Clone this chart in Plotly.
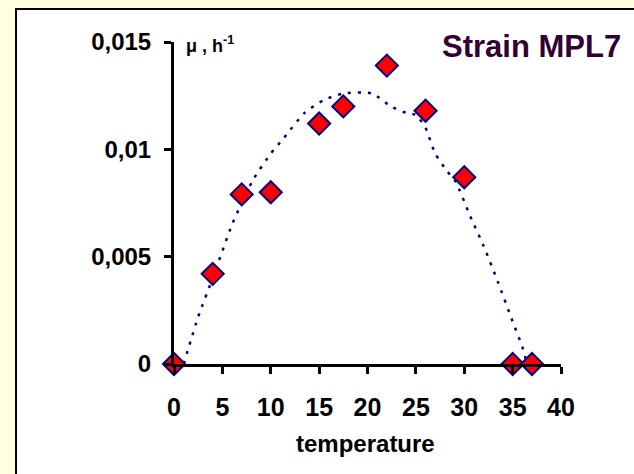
import plotly.graph_objects as go

# Measured data
temperature = [0, 4, 7, 10, 15, 17.5, 22, 26, 30, 35, 37]
mu = [0, 0.0042, 0.0079, 0.0080, 0.0112, 0.0120, 0.0139, 0.0118, 0.0087, 0, 0]

# Smoothed trend line
trend_t = [1, 2.5, 4, 6, 7, 8.2, 10, 11.3, 13.5, 15.5, 17.5, 20.5, 22.4, 24, 25, 26,
           27, 28.2, 29.1, 30.6, 32, 33.5, 34.9, 36, 36.5]
trend_mu = [0, 0.0022, 0.0040, 0.0065, 0.0075, 0.0086, 0.0098, 0.0105, 0.0117, 0.0123,
            0.0126, 0.0126, 0.0120, 0.0117, 0.0116, 0.0110, 0.0098, 0.0090, 0.0085,
            0.0069, 0.0055, 0.0038, 0.0021, 0.0008, 0]

x_ticks = [0, 5, 10, 15, 20, 25, 30, 35, 40]
y_ticks = [0, 0.005, 0.01, 0.015]
y_ticktext = ["0", "0,005", "0,01", "0,015"]

fig = go.Figure()
fig.add_trace(go.Scatter(
    x=trend_t, y=trend_mu, mode="lines",
    line=dict(color="#000080", width=2.5, dash="3px,7px", shape="spline", smoothing=0.6),
    hoverinfo="skip", showlegend=False, cliponaxis=False))
fig.add_trace(go.Scatter(
    x=temperature, y=mu, mode="markers",
    marker=dict(symbol="diamond", size=17, color="#FF0000",
                line=dict(color="#000080", width=2)),
    showlegend=False, cliponaxis=False))

L, R, T, B = 174, 73, 42, 110
W, H = 634, 474
pw, ph = W - L - R, H - T - B

def px(xp):
    return (xp - L) / pw

def py(yp):
    return (H - B - yp) / ph

fig.update_layout(
    width=W, height=H,
    margin=dict(l=L, r=R, t=T, b=B),
    paper_bgcolor="#FFFFE0",
    plot_bgcolor="rgba(0,0,0,0)",
    font=dict(family="Liberation Sans, Arial, sans-serif", color="black"),
    shapes=[dict(type="rect", xref="paper", yref="paper",
                 x0=px(16), x1=px(660), y0=py(500), y1=py(9),
                 fillcolor="white", line=dict(color="black", width=2), layer="below")],
    annotations=[
        dict(text="<b>Strain MPL7</b>", xref="paper", yref="paper",
             x=px(623), y=py(46), xanchor="right", yanchor="middle", showarrow=False,
             font=dict(size=31, color="#330033")),
        dict(text="<b>μ , h<sup>-1</sup></b>", xref="paper", yref="paper",
             x=px(184), y=py(44), xanchor="left", yanchor="middle", showarrow=False,
             font=dict(size=18, color="black")),
        dict(text="<b>temperature</b>", xref="paper", yref="paper",
             x=px(365), y=py(443), xanchor="center", yanchor="middle", showarrow=False,
             font=dict(size=24, color="black")),
    ],
)
fig.update_xaxes(
    range=[0, 40], tickvals=x_ticks, ticktext=[f"<b>{v}</b>" for v in x_ticks],
    showline=True, linewidth=3, linecolor="black", mirror=False,
    ticks="outside", ticklen=7, tickwidth=3, tickcolor="black",
    showgrid=False, zeroline=False, tickfont=dict(size=25, color="black"),
    ticklabelstandoff=12)
fig.update_yaxes(
    range=[0, 0.015], tickvals=y_ticks, ticktext=[f"<b>{t}</b>" for t in y_ticktext],
    showline=True, linewidth=3, linecolor="black",
    ticks="outside", ticklen=7, tickwidth=3, tickcolor="black",
    showgrid=False, zeroline=False, tickfont=dict(size=24, color="black"),
    ticklabelstandoff=8)

fig.write_html("out.html")
